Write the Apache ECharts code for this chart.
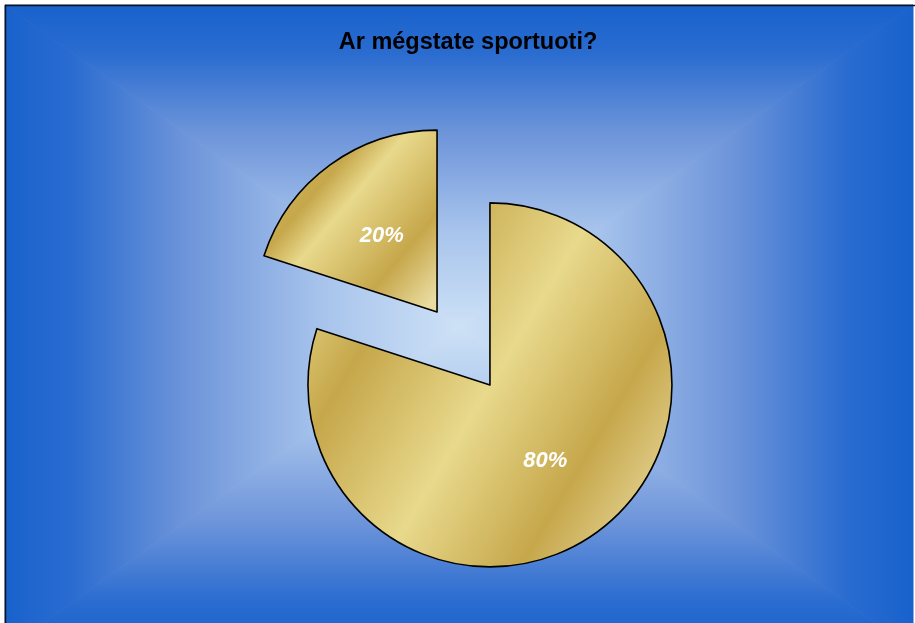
<!DOCTYPE html>
<html>
<head>
<meta charset="utf-8">
<title>Ar mégstate sportuoti?</title>
<script src="https://cdn.jsdelivr.net/npm/echarts@6/dist/echarts.min.js"></script>
<style>
  html, body { margin: 0; padding: 0; background: #ffffff; }
  #chart { width: 915px; height: 623px; }
</style>
</head>
<body>
<div id="chart"></div>
<script>
// Survey answers and their shares (percent)
const categories = ['Taip', 'Ne'];
const shares = [80, 20];
const titleText = 'Ar mégstate sportuoti?';

// Gold fill, one gradient per slice
const goldDark = '#C6A74B';
const goldLight = '#E8D98C';
const sliceFills = [
  { type: 'linear', x: 0, y: 0.2, x2: 1, y2: 0.8, colorStops: [
    { offset: 0, color: '#E2D080' },
    { offset: 0.2, color: goldDark },
    { offset: 0.5, color: goldLight },
    { offset: 0.78, color: goldDark },
    { offset: 1, color: '#E6D698' }
  ] },
  { type: 'linear', x: 0, y: 0.1, x2: 1, y2: 0.9, colorStops: [
    { offset: 0, color: '#D6BD66' },
    { offset: 0.3, color: goldDark },
    { offset: 0.44, color: goldLight },
    { offset: 0.77, color: goldDark },
    { offset: 1, color: '#EADCA0' }
  ] }
];

// Rectangular "from centre" background: four triangles, edge -> centre
const L = 5, T = 5, R = 913, B = 650;
const cx = (L + R) / 2, cy = (T + B) / 2;
const bgStops = [
  { offset: 0, color: '#1862CC' },
  { offset: 0.15, color: '#2A6CD0' },
  { offset: 0.4, color: '#6E95DA' },
  { offset: 0.7, color: '#A8C4EC' },
  { offset: 1, color: '#CDE1F6' }
];
function grad(x, y, x2, y2) {
  return { type: 'linear', x, y, x2, y2, colorStops: bgStops };
}
function tri(points, g) {
  return {
    type: 'polygon', z: -10, silent: true,
    shape: { points },
    style: { fill: g, stroke: g, lineWidth: 1 }
  };
}
const background = [
  tri([[L, T], [L, B], [cx, cy]], grad(0, 0, 1, 0)),
  tri([[R, T], [R, B], [cx, cy]], grad(1, 0, 0, 0)),
  tri([[L, T], [R, T], [cx, cy]], grad(0, 0, 0, 1)),
  tri([[L, B], [R, B], [cx, cy]], grad(0, 1, 0, 0)),
  { type: 'polyline', z: -5, silent: true,
    shape: { points: [[L + 0.5, B], [L + 0.5, T + 0.5], [915, T + 0.5]] },
    style: { fill: null, stroke: '#111111', lineWidth: 1.5 } }
];

const chart = echarts.init(document.getElementById('chart'), null, { renderer: 'canvas' });

chart.setOption({
  backgroundColor: '#ffffff',
  animation: false,
  graphic: { elements: background },
  title: {
    text: titleText,
    left: 463,
    top: 26,
    textAlign: 'center',
    textStyle: {
      fontFamily: 'Liberation Sans, Arial, sans-serif',
      fontSize: 23.5,
      fontWeight: 'bold',
      color: '#000000'
    }
  },
  series: [{
    type: 'pie',
    center: [463.5, 348.5],
    radius: 182,
    startAngle: 90,
    clockwise: true,
    selectedMode: 'multiple',
    selectedOffset: 45,
    avoidLabelOverlap: false,
    percentPrecision: 0,
    emphasis: { disabled: true },
    itemStyle: { borderColor: '#000000', borderWidth: 1.6 },
    label: {
      show: true,
      position: 'inside',
      formatter: '{d}%',
      color: '#ffffff',
      fontFamily: 'Liberation Sans, Arial, sans-serif',
      fontSize: 22,
      fontWeight: 'bold',
      fontStyle: 'italic'
    },
    labelLine: { show: false },
    data: categories.map((name, i) => ({
      name,
      value: shares[i],
      selected: true,
      itemStyle: { color: sliceFills[i] },
      select: { itemStyle: { color: sliceFills[i], borderColor: '#000000', borderWidth: 1.6 } }
    }))
  }]
});
</script>
</body>
</html>
